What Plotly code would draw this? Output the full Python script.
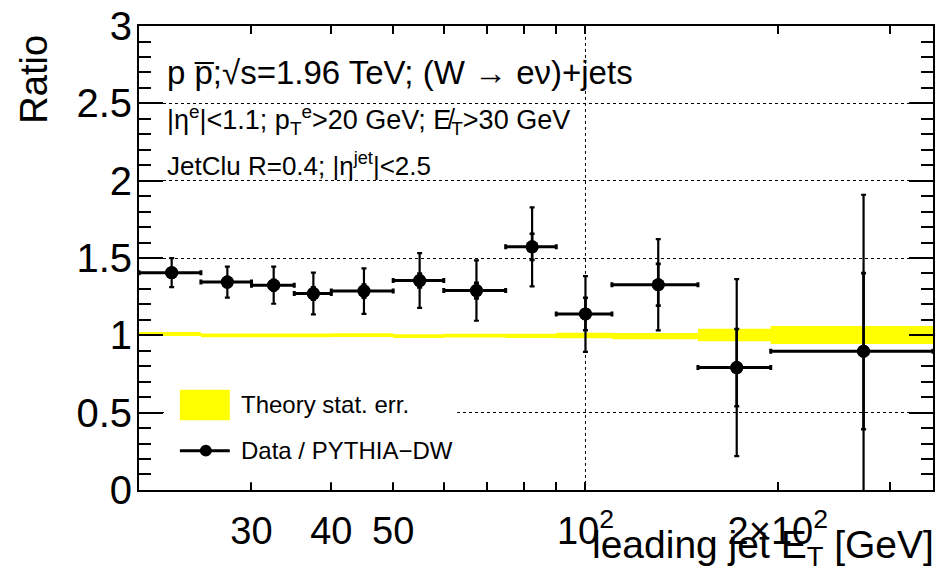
import math
import plotly.graph_objects as go

# Leading-jet ET bins [GeV] and the measured Data / PYTHIA-DW ratio
bin_edges = [20, 25, 30, 35, 40, 50, 60, 75, 90, 110, 150, 195, 350]
ratio = [1.405, 1.344, 1.324, 1.270, 1.286, 1.354, 1.289, 1.572, 1.138, 1.327, 0.791, 0.897]
err_total = [0.094, 0.100, 0.120, 0.135, 0.147, 0.177, 0.195, 0.255, 0.245, 0.295, 0.572, 1.012]
err_stat = [0.030, 0.032, 0.035, 0.040, 0.042, 0.045, 0.050, 0.085, 0.105, 0.135, 0.250, 0.505]

# Theory statistical uncertainty band (centre and half-width per bin)
theory_center = [1.009, 1.000, 1.000, 1.000, 1.001, 0.995, 0.998, 0.996, 0.999, 0.995, 1.002, 1.002]
theory_err = [0.013, 0.012, 0.012, 0.012, 0.012, 0.012, 0.012, 0.014, 0.018, 0.020, 0.041, 0.058]

# Axis tick labels
x_tickvals = [30, 40, 50, 100, 200]
x_ticktext = ["30", "40", "50", "10<sup>2</sup>", "2×10<sup>2</sup>"]
x_minor = [60, 70, 80, 90, 300]
y_tickvals = [0, 0.5, 1, 1.5, 2, 2.5, 3]
y_ticktext = ["0", "0.5", "1", "1.5", "2", "2.5", "3"]

FONT = "Liberation Sans, Arial, Helvetica, sans-serif"
W, H = 939, 578
ML, MR, MT, MB = 139, 4, 18, 88
PW, PH = W - ML - MR, H - MT - MB


def px(xp):
    return (xp - ML) / PW


def py(yp):
    return (H - MB - yp) / PH


lo = bin_edges[:-1]
hi = bin_edges[1:]
centers = [(a + b) / 2 for a, b in zip(lo, hi)]

fig = go.Figure()

# dotted vertical grid line at the decade
fig.add_trace(go.Scatter(x=[100, 100], y=[0, 3], mode="lines",
                         line=dict(color="black", width=1, dash="dot"),
                         hoverinfo="skip", showlegend=False))

# theory band as one filled polygon per bin
bx, by = [], []
for a, b, c, e in zip(lo, hi, theory_center, theory_err):
    bx += [a, b, b, a, a, None]
    by += [c - e, c - e, c + e, c + e, c - e, None]
fig.add_trace(go.Scatter(x=bx, y=by, mode="lines", fill="toself",
                         fillcolor="#ffff00", line=dict(width=0, color="#ffff00"),
                         hoverinfo="skip", showlegend=False))

# total uncertainties with bin widths
fig.add_trace(go.Scatter(
    x=centers, y=ratio, mode="markers",
    marker=dict(color="black", size=13, symbol="circle"),
    error_x=dict(type="data", symmetric=False,
                 array=[b - c for b, c in zip(hi, centers)],
                 arrayminus=[c - a for a, c in zip(lo, centers)],
                 color="black", thickness=3, width=2.5),
    error_y=dict(type="data", array=err_total, color="black", thickness=2.2, width=2.5),
    showlegend=False))

# statistical uncertainties (inner caps)
fig.add_trace(go.Scatter(
    x=centers, y=ratio, mode="markers",
    marker=dict(color="black", size=13, symbol="circle"),
    error_y=dict(type="data", array=err_stat, color="black", thickness=2.6, width=2.5),
    showlegend=False))

shapes = []
annotations = []

# legend box (opaque, hides the grid behind it)
shapes.append(dict(type="rect", xref="paper", yref="paper", layer="above",
                   x0=px(164), x1=px(458), y0=py(372), y1=py(482),
                   fillcolor="white", line=dict(width=0)))
shapes.append(dict(type="rect", xref="paper", yref="paper", layer="above",
                   x0=px(180), x1=px(230), y0=py(419), y1=py(388),
                   fillcolor="#ffff00", line=dict(width=0)))
shapes.append(dict(type="line", xref="paper", yref="paper", layer="above",
                   x0=px(180), x1=px(230), y0=py(450), y1=py(450),
                   line=dict(color="black", width=3)))
shapes.append(dict(type="circle", xref="paper", yref="paper", layer="above",
                   x0=px(200), x1=px(212), y0=py(456), y1=py(444),
                   fillcolor="black", line=dict(width=0)))
annotations.append(dict(xref="paper", yref="paper", x=px(239), y=py(403),
                        xanchor="left", yanchor="middle", showarrow=False,
                        text="Theory stat. err.", font=dict(size=24, family=FONT, color="black")))
annotations.append(dict(xref="paper", yref="paper", x=px(239), y=py(450),
                        xanchor="left", yanchor="middle", showarrow=False,
                        text="Data / PYTHIA\u2212DW", font=dict(size=24, family=FONT, color="black")))

# header text
annotations.append(dict(xref="paper", yref="paper", x=px(165), y=py(65),
                        xanchor="left", yanchor="middle", showarrow=False,
                        text="p p\u0305;\u221As=1.96 TeV; (W \u2192 e\u03bd)+jets",
                        font=dict(size=33, family=FONT, color="black")))
annotations.append(dict(xref="paper", yref="paper", x=px(165), y=py(114),
                        xanchor="left", yanchor="middle", showarrow=False,
                        text="|\u03b7<sup>e</sup>|&lt;1.1; p<sub>T</sub><sup>e</sup>&gt;20 GeV; E\u0338<sub>T</sub>&gt;30 GeV",
                        font=dict(size=27, family=FONT, color="black")))
annotations.append(dict(xref="paper", yref="paper", x=px(165), y=py(159),
                        xanchor="left", yanchor="middle", showarrow=False,
                        text="JetClu R=0.4; |\u03b7<sup>jet</sup>|&lt;2.5",
                        font=dict(size=26, family=FONT, color="black")))

# axis titles
annotations.append(dict(xref="paper", yref="paper", x=px(938), y=py(548),
                        xanchor="right", yanchor="middle", showarrow=False,
                        text="leading jet E<sub>T</sub> [GeV]",
                        font=dict(size=39, family=FONT, color="black")))
annotations.append(dict(xref="paper", yref="paper", x=px(34), y=py(25),
                        xanchor="center", yanchor="top", showarrow=False, textangle=-90,
                        text="Ratio", font=dict(size=38, family=FONT, color="black")))

fig.update_layout(
    width=W, height=H,
    margin=dict(l=ML, r=MR, t=MT, b=MB),
    paper_bgcolor="white", plot_bgcolor="white",
    showlegend=False,
    shapes=shapes, annotations=annotations,
    xaxis=dict(type="log", range=[math.log10(20), math.log10(350)],
               tickmode="array", tickvals=x_tickvals, ticktext=x_ticktext,
               ticks="inside", ticklen=8, tickwidth=1.5, tickcolor="black",
               minor=dict(tickmode="array", tickvals=x_minor, ticks="inside",
                          ticklen=8, tickwidth=1.5, tickcolor="black", showgrid=False),
               showgrid=False, zeroline=False,
               showline=True, linecolor="black", linewidth=2, mirror="allticks",
               tickfont=dict(size=38, family=FONT, color="black"),
               ticklabelstandoff=6, ticklabeloverflow="allow"),
    yaxis=dict(range=[-0.0005, 3.0005], tickmode="array", tickvals=y_tickvals, ticktext=y_ticktext,
               ticks="inside", ticklen=24, tickwidth=1.5, tickcolor="black",
               minor=dict(tickvals=[round(0.1 * k, 1) for k in range(31)], tickmode="array",
                          ticks="inside", ticklen=12, tickwidth=1.5,
                          tickcolor="black", showgrid=False),
               showgrid=True, gridcolor="black", gridwidth=1, griddash="dot",
               zeroline=False,
               showline=True, linecolor="black", linewidth=2, mirror="allticks",
               tickfont=dict(size=40, family=FONT, color="black"),
               ticklabelstandoff=-3, ticklabeloverflow="allow"),
)

fig.write_html("out.html")
